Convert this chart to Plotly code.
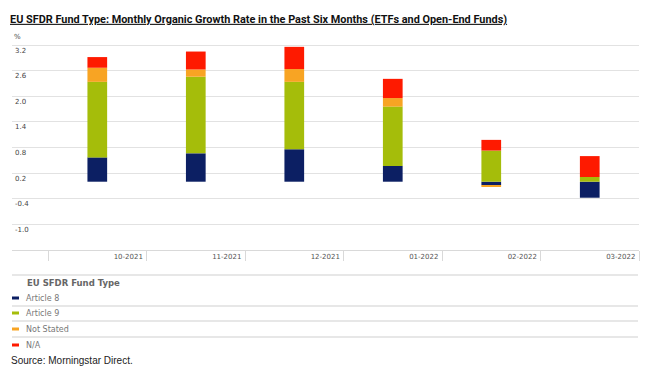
import plotly.graph_objects as go

# ---------------- data ----------------
months = ["10-2021", "11-2021", "12-2021", "01-2022", "02-2022", "03-2022"]
article8 = [0.57, 0.665, 0.76, 0.37, -0.08, -0.375]
article9 = [1.77, 1.795, 1.58, 1.39, 0.73, 0.11]
not_stated = [0.33, 0.17, 0.30, 0.20, -0.04, 0.0]
na = [0.25, 0.42, 0.52, 0.45, 0.25, 0.49]

series_names = ["Article 8", "Article 9", "Not Stated", "N/A"]
series_colors = ["#0c1f63", "#a5bd0a", "#f8a423", "#fe1a00"]

y_tickvals = [3.2, 2.6, 2.0, 1.4, 0.8, 0.2, -0.4, -1.0]
y_ticktext = ["3.2", "2.6", "2.0", "1.4", "0.8", "0.2", "-0.4", "-1.0"]

title_text = "EU SFDR Fund Type: Monthly Organic Growth Rate in the Past Six Months (ETFs and Open-End Funds)"
legend_title = "EU SFDR Fund Type"
source_text = "Source: Morningstar Direct."

# ---------------- layout geometry (screen pixels) ----------------
OFF = 8  # page body margin of the html page
WIDTH, HEIGHT = 650 - OFF, 373 - OFF
L, R, T, B = 12 - OFF, 639 - OFF, 43 - OFF, 250 - OFF
PW, PH = R - L, B - T


def px(x):
    return (x - OFF - L) / PW


def py(y):
    return (B - (y - OFF)) / PH


fig = go.Figure()
for name, vals, col in zip(series_names, [article8, article9, not_stated, na], series_colors):
    fig.add_trace(go.Bar(x=months, y=vals, name=name, marker=dict(color=col, line=dict(width=0)),
                         showlegend=False))

fig.update_layout(
    width=WIDTH, height=HEIGHT,
    margin=dict(l=L, r=WIDTH - R, t=T, b=HEIGHT - B, pad=0),
    paper_bgcolor="white", plot_bgcolor="white",
    barmode="relative", bargap=0.8,
    title=dict(text="<b><u>" + title_text + "</u></b>", xref="container", yref="container",
               x=(10 - OFF) / WIDTH, xanchor="left", y=1 - (19 - OFF) / HEIGHT, yanchor="middle",
               font=dict(family="Liberation Sans Narrow, Arial Narrow, Roboto, sans-serif", size=10.9, color="#111")),
    font=dict(family="DejaVu Sans, Verdana, sans-serif", size=7, color="#444"),
)

fig.update_xaxes(type="category", categoryorder="array", categoryarray=months,
                 range=[-0.866, 5.5], showgrid=False, zeroline=False,
                 showline=True, linecolor="#d9d9d9", linewidth=1,
                 ticks="outside", tickson="boundaries", ticklen=10, tickcolor="#d9d9d9", tickwidth=1,
                 ticklabelshift=31, ticklabelstandoff=0,
                 tickfont=dict(family="DejaVu Sans, Verdana, sans-serif", size=7, color="#555"))

fig.update_yaxes(range=[-1.6, 3.25], tickvals=y_tickvals, ticktext=y_ticktext,
                 showgrid=True, gridcolor="#e2e2e2", gridwidth=1, zeroline=False,
                 showline=False, ticks="", ticklabelposition="inside",
                 ticklabelstandoff=0, ticklabelshift=5,
                 tickfont=dict(family="DejaVu Sans, Verdana, sans-serif", size=7, color="#444"))

annotations = []
shapes = []

# "%" unit label
annotations.append(dict(text="%", xref="paper", yref="paper", x=px(12), y=py(37),
                        xanchor="left", yanchor="middle", showarrow=False,
                        font=dict(size=7, color="#444")))

# legend title and separators
annotations.append(dict(text="<b>" + legend_title + "</b>", xref="paper", yref="paper",
                        x=px(25), y=py(283), xanchor="left", yanchor="middle", showarrow=False,
                        font=dict(family="DejaVu Sans, Verdana, sans-serif", size=8.5, color="#666")))
for yl in [275, 306, 321, 337]:
    shapes.append(dict(type="line", xref="paper", yref="paper", x0=px(12), x1=px(638),
                       y0=py(yl), y1=py(yl), line=dict(color="#cfcfcf", width=1)))

entry_y = [298, 313, 329, 345]
for name, col, yy in zip(series_names, series_colors, entry_y):
    shapes.append(dict(type="rect", xref="paper", yref="paper", x0=px(12), x1=px(19),
                       y0=py(yy + 1.5), y1=py(yy - 1.5), fillcolor=col, line=dict(width=0)))
    annotations.append(dict(text=name, xref="paper", yref="paper", x=px(24), y=py(yy),
                            xanchor="left", yanchor="middle", showarrow=False,
                            font=dict(family="DejaVu Sans, Verdana, sans-serif", size=8, color="#777")))

# source
annotations.append(dict(text=source_text, xref="paper", yref="paper", x=px(9), y=py(360),
                        xanchor="left", yanchor="middle", showarrow=False,
                        font=dict(family="Liberation Sans Narrow, Arial Narrow, sans-serif", size=10, color="#222")))

fig.update_layout(annotations=annotations, shapes=shapes)

fig.write_html("out.html")
